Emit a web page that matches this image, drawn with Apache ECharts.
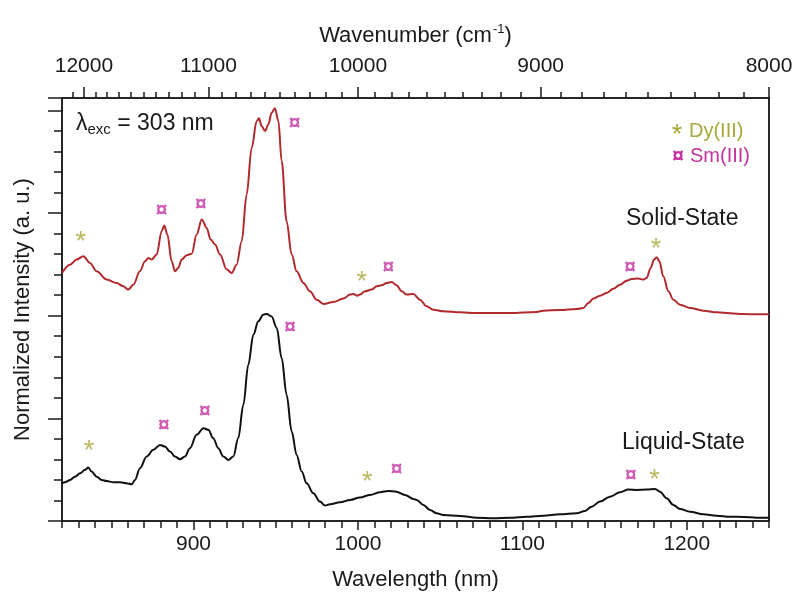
<!DOCTYPE html>
<html>
<head>
<meta charset="UTF-8">
<title>Emission spectra</title>
<script src="https://cdn.jsdelivr.net/npm/echarts@6/dist/echarts.min.js"></script>
<style>
  html, body { margin: 0; padding: 0; background: #fff; }
  #chart { width: 800px; height: 606px; }
</style>
</head>
<body>
<div id="chart"></div>
<script>
// solid-state spectrum (offset upward)
const solidNm = [820, 824.9, 828.9, 833.0, 837.0, 841.1, 847.2, 853.2, 857.3, 860.3, 863.4, 867.4, 870.5, 872.5, 874.5,
  877.6, 880.6, 882.2, 884.1, 886.7, 888.7, 890.7, 892.8, 895.8, 898.9, 901.9, 905.0, 908.0, 910.4, 913.1, 916.1,
  920.2, 923.2, 926.2, 929.3, 932.3, 935.4, 938.4, 939.8, 941.4, 943.5, 945.5, 947.5, 949.5, 951.6, 953.6, 956.6,
  959.7, 962.7, 966.8, 970.8, 974.9, 979.0, 985.0, 991.1, 995.2, 997.2, 999.6, 1001.2, 1004.3, 1008.3, 1011.4,
  1014.4, 1017.5, 1020.5, 1023.5, 1026.6, 1029.6, 1033.7, 1037.7, 1041.8, 1045.8, 1051.9, 1062.1, 1072.2, 1092.5,
  1108.7, 1112.7, 1122.9, 1133.0, 1137.1, 1140.1, 1143.2, 1147.2, 1151.3, 1155.3, 1159.4, 1163.4, 1166.5, 1170.5,
  1173.6, 1175.6, 1178.0, 1180.1, 1181.7, 1183.3, 1185.7, 1188.8, 1191.8, 1195.9, 1202.0, 1210.0, 1218.2, 1226.3,
  1234.4, 1242.5, 1250];
const solidVal = [2.416, 2.497, 2.546, 2.579, 2.514, 2.432, 2.351, 2.319, 2.286, 2.254, 2.302, 2.432, 2.530, 2.562, 2.546,
  2.595, 2.823, 2.878, 2.790, 2.530, 2.432, 2.465, 2.546, 2.589, 2.602, 2.790, 2.937, 2.855, 2.741, 2.693, 2.595,
  2.449, 2.416, 2.497, 2.725, 3.180, 3.636, 3.896, 3.922, 3.847, 3.798, 3.863, 3.977, 4.019, 3.896, 3.506, 2.920,
  2.595, 2.432, 2.319, 2.237, 2.156, 2.114, 2.133, 2.166, 2.205, 2.211, 2.195, 2.205, 2.237, 2.254, 2.286,
  2.296, 2.319, 2.328, 2.296, 2.237, 2.205, 2.211, 2.156, 2.091, 2.058, 2.042, 2.032, 2.026, 2.026,
  2.036, 2.049, 2.055, 2.065, 2.075, 2.123, 2.166, 2.195, 2.221, 2.263, 2.302, 2.341, 2.358, 2.361,
  2.351, 2.367, 2.465, 2.546, 2.569, 2.530, 2.384, 2.237, 2.156, 2.107, 2.075, 2.049, 2.032, 2.023,
  2.016, 2.013, 2.013];

// liquid-state spectrum
const liquidNm = [820, 821.8, 824.9, 827.9, 831.0, 834.0, 836.0, 838.0, 841.1, 844.1, 847.2, 851.2, 855.3, 859.3, 862.4,
  864.4, 867.4, 871.5, 875.5, 879.6, 882.6, 885.7, 888.7, 891.8, 894.8, 897.8, 901.9, 906.0, 909.0, 912.0, 915.1,
  918.1, 921.2, 924.2, 927.2, 930.3, 933.3, 936.4, 939.4, 942.4, 944.5, 947.5, 950.6, 953.6, 956.6, 959.7, 962.7,
  965.8, 968.8, 972.9, 976.9, 980.0, 983.0, 989.1, 995.2, 1001.2, 1007.3, 1013.4, 1018.5, 1023.5, 1028.6, 1033.7,
  1035.7, 1039.8, 1043.8, 1047.9, 1051.9, 1062.1, 1072.2, 1082.3, 1092.5, 1102.6, 1112.7, 1122.9, 1133.0, 1138.1,
  1142.1, 1147.2, 1153.3, 1159.4, 1164.4, 1169.5, 1175.6, 1180.7, 1183.7, 1187.8, 1191.8, 1195.9, 1202.0, 1210.0,
  1218.2, 1226.3, 1234.4, 1242.5, 1250];
const liquidVal = [0.367, 0.377, 0.400, 0.432, 0.465, 0.498, 0.520, 0.481, 0.432, 0.400, 0.390, 0.377, 0.377, 0.367, 0.358,
  0.400, 0.514, 0.628, 0.693, 0.741, 0.725, 0.676, 0.628, 0.602, 0.628, 0.709, 0.839, 0.904, 0.888, 0.806, 0.709,
  0.628, 0.595, 0.628, 0.806, 1.132, 1.522, 1.815, 1.945, 2.010, 2.016, 1.993, 1.880, 1.587, 1.229, 0.871, 0.644,
  0.481, 0.367, 0.270, 0.189, 0.150, 0.163, 0.182, 0.205, 0.228, 0.254, 0.280, 0.293, 0.286, 0.254, 0.215,
  0.205, 0.156, 0.107, 0.075, 0.058, 0.049, 0.032, 0.026, 0.032, 0.042, 0.052, 0.065, 0.075, 0.098,
  0.140, 0.189, 0.237, 0.280, 0.306, 0.303, 0.306, 0.312, 0.286, 0.221, 0.156, 0.117, 0.091, 0.065,
  0.052, 0.042, 0.039, 0.032, 0.032];

// peak markers [wavelength, height]
const dyMarks = [[831.4, 2.774], [1002.3, 2.383], [1181.3, 2.699], [836.4, 0.735], [1005.7, 0.432], [1180.3, 0.455]];
const smMarks = [[880.6, 3.03], [904.5, 3.083], [961.5, 3.87], [1018.5, 2.471], [1165.5, 2.471],
  [882.0, 0.937], [906.8, 1.073], [958.7, 1.886], [1023.5, 0.507], [1165.9, 0.449]];

// axis ticks
const nmTicks = [900, 1000, 1100, 1200];
const nmMinor = [];
for (let v = 820; v <= 1250; v += 10) nmMinor.push(v);
const wnTicks = [12000, 11000, 10000, 9000, 8000];
const wnMinor = [];
for (let w = 12100; w >= 8000; w -= 100) wnMinor.push(w);

const FONT = 'Liberation Sans';
const AX = '#1a1a1a';
const DY = '#a9a83a';
const SM = '#c4329f';
const toNm = w => 1e7 / w;

const chart = echarts.init(document.getElementById('chart'));

const baseX = {
  type: 'value', min: 820, max: 1250,
  splitLine: { show: false },
  axisLine: { show: false },
  axisLabel: { show: false },
  axisTick: { show: false }
};

chart.setOption({
  animation: false,
  backgroundColor: '#fff',
  textStyle: { fontFamily: FONT },
  grid: { left: 62, right: 31, top: 98, bottom: 85, show: true, borderColor: AX, borderWidth: 1.5 },
  xAxis: [
    Object.assign({}, baseX, {
      position: 'bottom',
      name: 'Wavelength (nm)', nameLocation: 'middle', nameGap: 48,
      nameTextStyle: { fontSize: 22, color: AX, fontFamily: FONT },
      axisLine: { show: true, lineStyle: { color: AX, width: 1.5 } },
      axisTick: { show: true, customValues: nmTicks, length: 9, lineStyle: { color: AX, width: 1.5 } },
      axisLabel: {
        show: true, customValues: nmTicks, fontSize: 21, color: AX, margin: 13, fontFamily: FONT,
        formatter: v => String(v)
      }
    }),
    Object.assign({}, baseX, {
      position: 'bottom',
      axisTick: { show: true, customValues: nmMinor, length: 7, lineStyle: { color: AX, width: 1.5 } }
    }),
    Object.assign({}, baseX, {
      position: 'top',
      name: 'Wavenumber (cm{sup|-1})', nameLocation: 'middle', nameGap: 50,
      nameTextStyle: {
        fontSize: 22, color: AX, fontFamily: FONT,
        rich: { sup: { fontSize: 13, color: AX, verticalAlign: 'top', padding: [0, 0, 12, 1] } }
      },
      axisLine: { show: true, lineStyle: { color: AX, width: 1.5 } },
      axisTick: { show: true, customValues: wnTicks.map(toNm), length: 11, lineStyle: { color: AX, width: 1.5 } },
      axisLabel: {
        show: true, customValues: wnTicks.map(toNm), fontSize: 21, color: AX, margin: 21, fontFamily: FONT,
        formatter: v => String(Math.round(1e7 / v))
      }
    }),
    Object.assign({}, baseX, {
      position: 'top',
      axisTick: { show: true, customValues: wnMinor.map(toNm), length: 6, lineStyle: { color: AX, width: 1.5 } }
    })
  ],
  yAxis: [
    {
      type: 'value', min: 0, max: 4.12, interval: 1, position: 'left',
      name: 'Normalized Intensity (a. u.)', nameLocation: 'middle', nameGap: 28,
      nameTextStyle: { fontSize: 22, color: AX, fontFamily: FONT },
      splitLine: { show: false },
      axisLine: { show: true, lineStyle: { color: AX, width: 1.5 } },
      axisTick: { show: true, length: 14, lineStyle: { color: AX, width: 1.5 } },
      minorTick: { show: true, splitNumber: 5, length: 8, lineStyle: { color: AX, width: 1.5 } },
      axisLabel: { show: false }
    },
    {
      type: 'value', min: 0, max: 4.12, position: 'right',
      splitLine: { show: false }, axisLabel: { show: false }, axisTick: { show: false },
      axisLine: { show: true, lineStyle: { color: AX, width: 1.5 } }
    }
  ],
  series: [
    {
      name: 'Solid-State', type: 'line', xAxisIndex: 0, yAxisIndex: 0,
      data: solidNm.map((x, i) => [x, solidVal[i]]),
      showSymbol: false, smooth: 0.35, smoothMonotone: 'x',
      lineStyle: { color: '#b02a2e', width: 2 }
    },
    {
      name: 'Liquid-State', type: 'line', xAxisIndex: 0, yAxisIndex: 0,
      data: liquidNm.map((x, i) => [x, liquidVal[i]]),
      showSymbol: false, smooth: 0.35, smoothMonotone: 'x',
      lineStyle: { color: '#111', width: 2 }
    },
    {
      name: 'Dy(III)', type: 'scatter', xAxisIndex: 0, yAxisIndex: 0,
      data: dyMarks, symbolSize: 0,
      label: { show: true, position: 'inside', formatter: '*', fontSize: 27, color: DY, offset: [0, 6], fontFamily: FONT }
    },
    {
      name: 'Sm(III)', type: 'scatter', xAxisIndex: 0, yAxisIndex: 0,
      data: smMarks, symbolSize: 0,
      label: {
        show: true, position: 'inside', formatter: '\u00a4', fontSize: 21, fontWeight: 'bold',
        color: SM, fontFamily: FONT
      }
    }
  ],
  graphic: [
    {
      type: 'text', x: 76, y: 124,
      style: {
        text: '\u03bb{sub|exc} = 303 nm', fill: AX, fontSize: 23, fontFamily: FONT, verticalAlign: 'middle',
        rich: { sub: { fontSize: 15, fill: AX, verticalAlign: 'bottom', padding: [11, 0, 0, 0] } }
      }
    },
    { type: 'text', x: 677, y: 136, style: { text: '*', fill: DY, fontSize: 27, fontFamily: FONT, align: 'center', verticalAlign: 'middle' } },
    { type: 'text', x: 689, y: 131, style: { text: 'Dy(III)', fill: DY, fontSize: 20, fontFamily: FONT, verticalAlign: 'middle' } },
    { type: 'text', x: 678, y: 156, style: { text: '\u00a4', fill: SM, fontSize: 21, fontWeight: 'bold', fontFamily: FONT, align: 'center', verticalAlign: 'middle' } },
    { type: 'text', x: 690, y: 156, style: { text: 'Sm(III)', fill: SM, fontSize: 20, fontFamily: FONT, verticalAlign: 'middle' } },
    { type: 'text', x: 626, y: 219, style: { text: 'Solid-State', fill: AX, fontSize: 23, fontFamily: FONT, verticalAlign: 'middle' } },
    { type: 'text', x: 622, y: 443, style: { text: 'Liquid-State', fill: AX, fontSize: 23, fontFamily: FONT, verticalAlign: 'middle' } }
  ]
});
</script>
</body>
</html>
